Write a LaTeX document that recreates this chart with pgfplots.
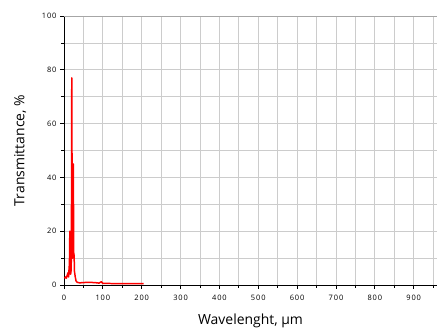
\documentclass[border=0pt]{standalone}
\usepackage{pgfplots}
\pgfplotsset{compat=1.18}
\usepackage{fontspec}
\setmainfont{Open Sans}
\newfontfamily\tickfont[LetterSpace=12]{Open Sans}
\begin{document}
\begin{tikzpicture}
\begin{axis}[
  name=ax,
  scale only axis,
  width=373bp, height=269bp,
  xmin=0, xmax=960, ymin=0, ymax=100,
  axis lines=left,
  axis line style={black, -, line width=0.8pt},
  xtick={0,100,...,900},
  ytick={0,20,...,100},
  minor xtick={50,150,...,950},
  minor ytick={10,30,...,90},
  grid=both,
  major grid style={gray!40, line width=0.8pt},
  minor grid style={gray!40, line width=0.8pt},
  tick align=outside,
  major tick length=4pt,
  minor tick length=3pt,
  tick style={black, line width=0.8pt},
  tick label style={font=\tickfont\fontsize{7.5}{8}\selectfont},
  xticklabel style={yshift=-3pt},
  /pgf/number format/assume math mode=true,
  xlabel={Wavelenght, µm},
  ylabel={Transmittance, \%},
  label style={font=\fontsize{14}{16}\selectfont},
  xlabel style={yshift=-6pt},
  ylabel style={yshift=9pt},
  clip=false,
]
\addplot[red, line width=1.5pt, line join=round] coordinates {
(1,2.5)(4,3)(6,2.5)(8,3.5)(10,4.5)(12,3)(13,6)(14,8)(15,20)(16,8)(17,4)(18,5)(19,10)(20,77)(21,30)(22,10)(23,20)(24,45)(25,12)(26,11)(27,5)(29,3)(31,1.5)(34,1)(40,0.8)(60,1)(80,0.9)(90,0.7)(96,1.2)(100,0.6)(150,0.5)(205,0.5)
};
\draw[gray!70, line width=0.8pt] (rel axis cs:0,1) -- (rel axis cs:1,1);
\end{axis}
\pgfresetboundingbox
\path[use as bounding box] ([shift={(-64bp,-42bp)}]ax.south west) rectangle ([shift={(6bp,16bp)}]ax.north east);
\end{tikzpicture}
\end{document}
